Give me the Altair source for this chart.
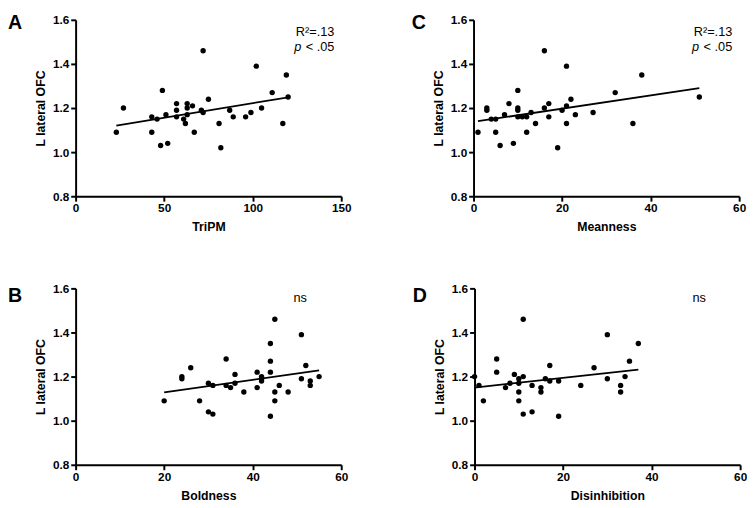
import altair as alt
import pandas as pd

FONT = "Liberation Sans"
W, H = 271, 180

# ---- data ----
Y_TICKS = [0.8, 1.0, 1.2, 1.4, 1.6]
Y_TITLE = "L lateral OFC"

tripm_x = [23, 27, 43, 43, 46, 49, 48, 51, 52, 57, 57, 57, 61, 62, 63, 63, 63, 66,
           67, 71, 72, 72, 75, 81, 82, 87, 89, 96, 99, 102, 105, 111, 117, 119, 120]
tripm_y = [1.09, 1.20, 1.16, 1.09, 1.15, 1.28, 1.03, 1.17, 1.04, 1.22, 1.19, 1.16,
           1.15, 1.13, 1.22, 1.20, 1.17, 1.21, 1.09, 1.19, 1.46, 1.18, 1.24, 1.13,
           1.02, 1.19, 1.16, 1.16, 1.18, 1.39, 1.20, 1.27, 1.13, 1.35, 1.25]

mean_x = [1, 3, 3, 4, 5, 5, 6, 7, 8, 9, 10, 10, 10, 10, 11, 12, 12, 13, 14, 16, 16,
          17, 17, 19, 20, 21, 21, 21, 22, 23, 27, 32, 36, 38, 51]
mean_y = [1.09, 1.20, 1.19, 1.15, 1.15, 1.09, 1.03, 1.17, 1.22, 1.04, 1.28, 1.20,
          1.19, 1.16, 1.16, 1.16, 1.09, 1.18, 1.13, 1.46, 1.20, 1.22, 1.16, 1.02,
          1.19, 1.39, 1.21, 1.13, 1.24, 1.17, 1.18, 1.27, 1.13, 1.35, 1.25]

bold_x = [20, 24, 24, 26, 28, 30, 30, 31, 31, 34, 34, 35, 36, 36, 38, 41, 41, 42, 42,
          42, 44, 44, 44, 44, 45, 45, 45, 46, 48, 51, 51, 52, 53, 53, 55]
bold_y = [1.09, 1.20, 1.19, 1.24, 1.09, 1.17, 1.04, 1.16, 1.03, 1.28, 1.16, 1.15,
          1.21, 1.17, 1.13, 1.22, 1.15, 1.20, 1.19, 1.18, 1.35, 1.27, 1.22, 1.02,
          1.46, 1.13, 1.09, 1.16, 1.13, 1.39, 1.19, 1.25, 1.18, 1.16, 1.20]

dis_x = [0, 1, 2, 5, 5, 7, 8, 9, 10, 10, 10, 10, 11, 11, 11, 13, 13, 15, 15, 16, 17,
         17, 19, 19, 24, 27, 30, 30, 33, 33, 34, 35, 37]
dis_y = [1.20, 1.16, 1.09, 1.28, 1.22, 1.15, 1.17, 1.21, 1.19, 1.17, 1.13, 1.09,
         1.20, 1.46, 1.03, 1.16, 1.04, 1.15, 1.13, 1.19, 1.25, 1.18, 1.18, 1.02,
         1.16, 1.24, 1.39, 1.19, 1.16, 1.13, 1.20, 1.27, 1.35]

TICKS_150 = [0, 50, 100, 150]
TICKS_60 = [0, 20, 40, 60]

R2_TEXT = ["R\u00b2=.13"]
P_ITALIC = ["p"]
P_REST = ["< .05"]
NS_TEXT = ["ns"]


def txt(values, **kw):
    return alt.Chart(pd.DataFrame({"t": values})).mark_text(font=FONT, color="black", **kw)


def panel(xs, ys, xtitle, xmax, xticks, letter, letter_x, letter_y, significant):
    df = pd.DataFrame({"x": xs, "y": ys})
    X = alt.X("x:Q", title=xtitle,
              scale=alt.Scale(domain=[0, xmax], nice=False, zero=False),
              axis=alt.Axis(values=xticks, format="d", labelFlush=False))
    Y = alt.Y("y:Q", title=Y_TITLE,
              scale=alt.Scale(domain=[0.8, 1.6], nice=False, zero=False),
              axis=alt.Axis(values=Y_TICKS, format=".1f"))
    pts = alt.Chart(df).mark_circle(size=30, color="black", opacity=1).encode(x=X, y=Y)
    fit = (alt.Chart(df).transform_regression("x", "y")
           .mark_line(color="black", strokeWidth=1.8).encode(x=X, y=Y))
    lab = txt([letter], align="left", baseline="alphabetic", fontSize=20,
              fontWeight="bold").encode(text="t:N", x=alt.value(letter_x), y=alt.value(letter_y))
    layers = [pts, fit, lab]
    if significant:
        layers.append(txt(R2_TEXT, align="right", baseline="alphabetic", fontSize=13)
                      .encode(text="t:N", x=alt.value(W - 7), y=alt.value(17)))
        layers.append(txt(P_ITALIC, align="left", baseline="alphabetic", fontSize=13,
                          fontStyle="italic")
                      .encode(text="t:N", x=alt.value(W - 48), y=alt.value(31.5)))
        layers.append(txt(P_REST, align="right", baseline="alphabetic", fontSize=13)
                      .encode(text="t:N", x=alt.value(W - 7), y=alt.value(31.5)))
    else:
        layers.append(txt(NS_TEXT, align="right", baseline="alphabetic", fontSize=13)
                      .encode(text="t:N", x=alt.value(236), y=alt.value(13.5)))
    return alt.layer(*layers).properties(width=W, height=H)


pA = panel(tripm_x, tripm_y, "TriPM", 150, TICKS_150, "A", -69, 9, True)
pC = panel(mean_x, mean_y, "Meanness", 60, TICKS_60, "C", -63, 9, True)
pB = panel(bold_x, bold_y, "Boldness", 60, TICKS_60, "B", -69, 14, False)
pD = panel(dis_x, dis_y, "Disinhibition", 60, TICKS_60, "D", -63, 14, False)

row1 = alt.hconcat(pA, pC, spacing=61)
row2 = alt.hconcat(pB, pD, spacing=66)

chart = (
    alt.vconcat(row1, row2, spacing=50)
    .properties(padding={"left": 0, "top": 0, "right": 0, "bottom": 0})
    .configure_view(stroke=None)
    .configure_axis(
        grid=False,
        domainColor="black", domainWidth=2,
        tickColor="black", tickWidth=2, tickSize=5,
        labelFont=FONT, labelFontSize=12, labelFontWeight="bold", labelColor="black",
        labelPadding=2, labelOverlap=False,
        titleFont=FONT, titleFontSize=12.5, titleFontWeight="bold", titleColor="black",
        titlePadding=5,
    )
    .configure_axisX(titlePadding=7)
)

chart.save("out.html", embed_options={"renderer": "svg", "actions": False})
